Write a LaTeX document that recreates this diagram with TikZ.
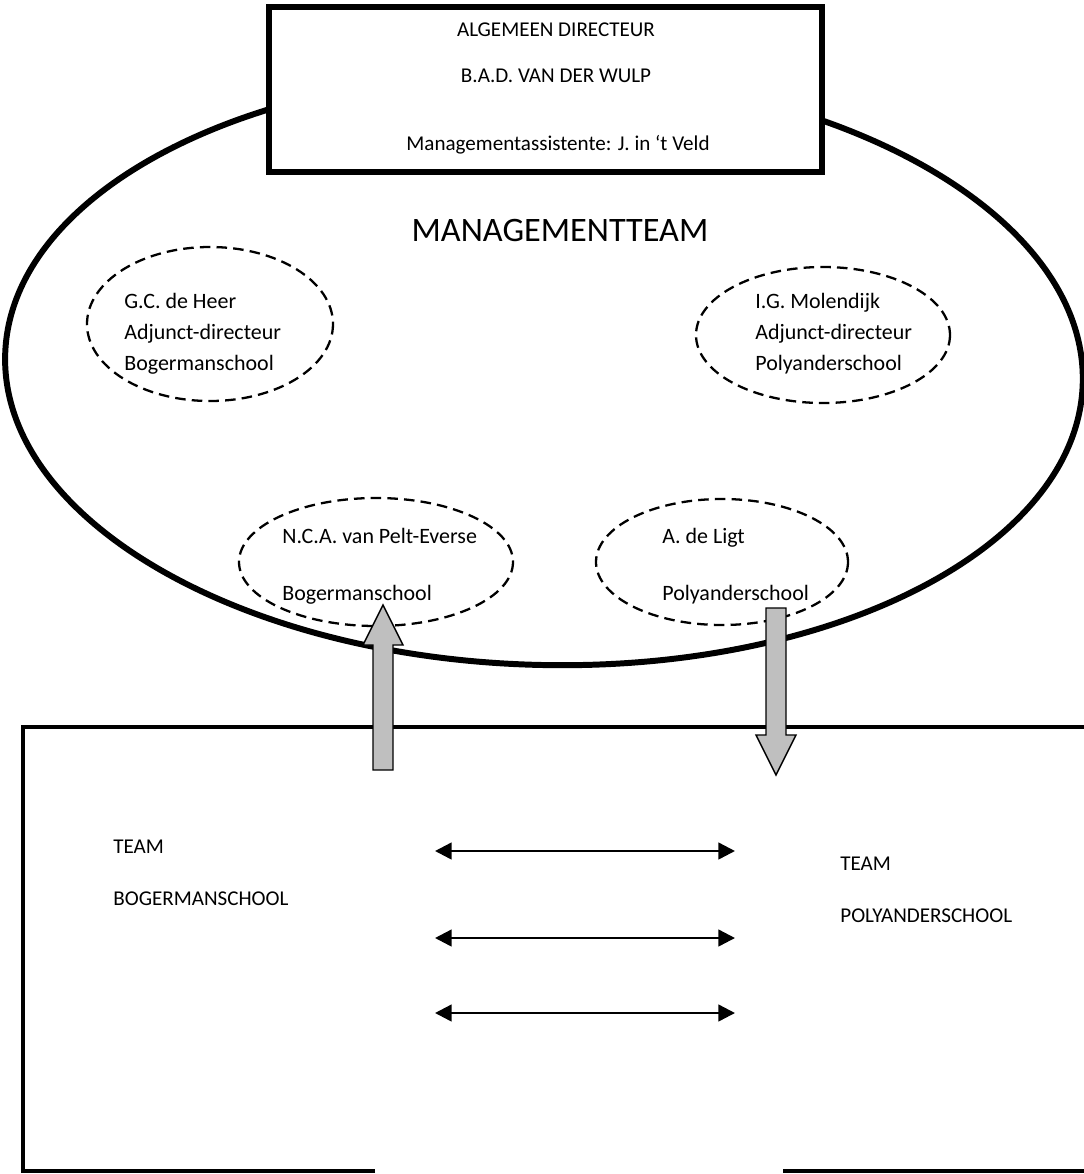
\documentclass[tikz,border=0pt]{standalone}
\usepackage{fontspec}
\setmainfont{Carlito}
\usetikzlibrary{arrows.meta}

\tikzset{
  rand/.style={line width=3.4pt},
  lid/.style={draw, line width=1.3pt, dash pattern=on 6pt off 3.5pt},
  txt/.style={font=\fontsize{12.5}{17.6}\selectfont, align=left, inner sep=0pt, anchor=west},
  blok/.style={draw=black, line width=0.8pt, fill=black!25, line join=miter},
  wissel/.style={line width=1.4pt, {Triangle[length=9.5pt,width=9.5pt]}-{Triangle[length=9.5pt,width=9.5pt]}}
}

\begin{document}
\begin{tikzpicture}[x=0.02cm, y=-0.02cm]
  \useasboundingbox (0,0) rectangle (1084,1174);

  % managementteam
  \coordinate (mt) at (544,369);
  \draw[rand, rotate around={-1.5:(mt)}] (mt) ellipse [x radius=539, y radius=296];
  \node[font=\fontsize{19.5}{23}\selectfont, inner sep=0pt] (mtnaam) at (560,230) {MANAGEMENTTEAM};

  % directeur
  \draw[rand, fill=white] (269,7) rectangle (822,172);
  \node[font=\fontsize{12}{14}\selectfont] (dir1) at (556,30) {ALGEMEEN DIRECTEUR};
  \node[font=\fontsize{12}{14}\selectfont] (dir2) at (556,76) {B.A.D. VAN DER WULP};
  \node[font=\fontsize{12}{14}\selectfont] (dir3) at (558,145) {Managementassistente: J. in ‘t Veld};

  % adjunct-directeuren en leden
  \coordinate (heer) at (210,324);
  \coordinate (molendijk) at (823,335);
  \coordinate (pelt) at (376,562);
  \coordinate (ligt) at (722,562);
  \draw[lid] (heer) ellipse [x radius=123, y radius=77];
  \draw[lid] (molendijk) ellipse [x radius=127, y radius=68];
  \draw[lid] (pelt) ellipse [x radius=137, y radius=64];
  \draw[lid] (ligt) ellipse [x radius=126, y radius=63];

  \node[txt] (heertxt) at (124,334) {G.C. de Heer\\Adjunct-directeur\\Bogermanschool};
  \node[txt] (moltxt) at (755,334) {I.G. Molendijk\\Adjunct-directeur\\Polyanderschool};
  \node[txt] (pelttxt) at (282,566) {N.C.A. van Pelt-Everse\\[14.7pt]Bogermanschool};
  \node[txt] (ligttxt) at (662,566) {A. de Ligt\\[14.7pt]Polyanderschool};

  % teams
  \draw[line width=2.3pt, line join=miter] (375,1171) -- (23,1171) -- (23,727)
    -- (1095,727) -- (1095,1171) -- (783,1171);
  \node[txt, font=\fontsize{12}{14}\selectfont] (teamb) at (113,873) {TEAM\\[15.5pt]BOGERMANSCHOOL};
  \node[txt, font=\fontsize{12}{14}\selectfont] (teamp) at (840,890) {TEAM\\[15.5pt]POLYANDERSCHOOL};

  \foreach \y [count=\i] in {851,938,1013} {
    \coordinate (l\i) at (435,\y);
    \coordinate (r\i) at (735,\y);
    \draw[wissel] (l\i) -- (r\i);
  }

  % pijlen
  \coordinate (op) at (383,770);
  \coordinate (neer) at (776,608);
  \draw[blok] (op) ++(-10,0) -- ++(0,-125) -- ++(-10,0) -- ++(20,-40)
    -- ++(20,40) -- ++(-10,0) -- ++(0,125) -- cycle;
  \draw[blok] (neer) ++(-10,0) -- ++(0,127) -- ++(-10,0) -- ++(20,40)
    -- ++(20,-40) -- ++(-10,0) -- ++(0,-127) -- cycle;
\end{tikzpicture}
\end{document}
